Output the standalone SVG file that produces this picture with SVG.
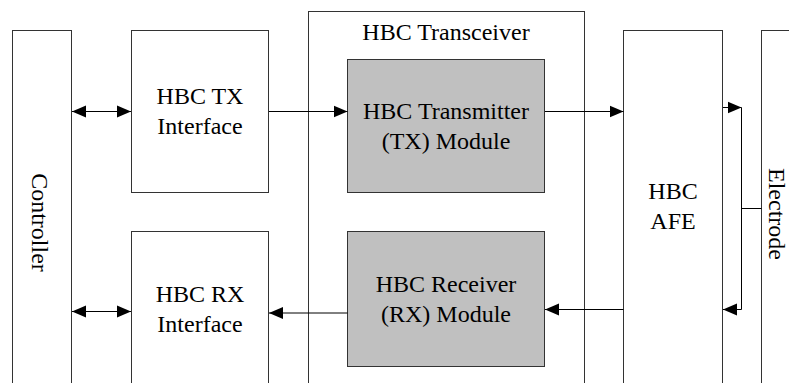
<svg xmlns="http://www.w3.org/2000/svg" width="789" height="383" viewBox="0 0 789 383">
  <style>
    .box { fill: #ffffff; stroke: #333333; stroke-width: 1; }
    .gray { fill: #c0c0c0; stroke: #333333; stroke-width: 1; }
    .lbl { font-family: 'Liberation Serif', 'DejaVu Serif', serif; font-size: 24px; fill: #000000; text-anchor: middle; }
    .wire { fill: none; stroke: #000000; stroke-width: 1; }
  </style>
  <defs>
    <marker id="arr" markerUnits="userSpaceOnUse" markerWidth="15" markerHeight="13" refX="14" refY="6.5" orient="auto-start-reverse">
      <path d="M0,0.5 L14,6.5 L0,12.5 Z" fill="#000000"/>
    </marker>
  </defs>
  <rect width="789" height="383" fill="#ffffff"/>

  <g id="controller">
    <rect class="box" x="12.5" y="30.5" width="59" height="380"/>
    <text class="lbl" font-family="Liberation Serif, serif" transform="translate(32,222.5) rotate(90)" x="0" y="0">Controller</text>
  </g>
  <g id="tx-interface">
    <rect class="box" x="131.5" y="30.5" width="137" height="162"/>
    <text class="lbl" font-family="Liberation Serif, serif" x="200" y="104">HBC TX</text>
    <text class="lbl" font-family="Liberation Serif, serif" x="200" y="134">Interface</text>
  </g>
  <g id="rx-interface">
    <rect class="box" x="131.5" y="231.5" width="137" height="200"/>
    <text class="lbl" font-family="Liberation Serif, serif" x="200" y="302">HBC RX</text>
    <text class="lbl" font-family="Liberation Serif, serif" x="200" y="332">Interface</text>
  </g>
  <g id="transceiver">
    <rect class="box" x="308.5" y="11.5" width="276" height="400"/>
    <text class="lbl" font-family="Liberation Serif, serif" x="446" y="40">HBC Transceiver</text>
  </g>
  <g id="tx-module">
    <rect class="gray" x="347.5" y="59.5" width="197" height="133"/>
    <text class="lbl" font-family="Liberation Serif, serif" x="446" y="119">HBC Transmitter</text>
    <text class="lbl" font-family="Liberation Serif, serif" x="446" y="149">(TX) Module</text>
  </g>
  <g id="rx-module">
    <rect class="gray" x="347.5" y="231.5" width="197" height="135"/>
    <text class="lbl" font-family="Liberation Serif, serif" x="446" y="292">HBC Receiver</text>
    <text class="lbl" font-family="Liberation Serif, serif" x="446" y="322">(RX) Module</text>
  </g>
  <g id="afe">
    <rect class="box" x="623.5" y="30.5" width="99" height="400"/>
    <text class="lbl" font-family="Liberation Serif, serif" x="673" y="199">HBC</text>
    <text class="lbl" font-family="Liberation Serif, serif" x="673" y="229">AFE</text>
  </g>
  <g id="electrode">
    <rect class="box" x="761.5" y="30.5" width="60" height="400"/>
    <text class="lbl" font-family="Liberation Serif, serif" transform="translate(769,214) rotate(90)" x="0" y="0">Electrode</text>
  </g>

  <g id="connectors">
    <path class="wire" d="M72,111.5 H131" marker-start="url(#arr)" marker-end="url(#arr)"/>
    <path class="wire" d="M72,311.5 H131" marker-start="url(#arr)" marker-end="url(#arr)"/>
    <path class="wire" d="M269,111.5 H347.5" marker-end="url(#arr)"/>
    <path class="wire" d="M545,111.5 H623.5" marker-end="url(#arr)"/>
    <path class="wire" d="M347.5,313 H269" marker-end="url(#arr)"/>
    <path class="wire" d="M623.5,309.5 H545" marker-end="url(#arr)"/>
    <path class="wire" d="M723,107.5 H741.5" marker-end="url(#arr)"/>
    <path class="wire" d="M741.5,107.5 V309.5"/>
    <path class="wire" d="M741.5,309.5 H723" marker-end="url(#arr)"/>
    <path class="wire" d="M741.5,208.5 H761.5"/>
  </g>
</svg>
